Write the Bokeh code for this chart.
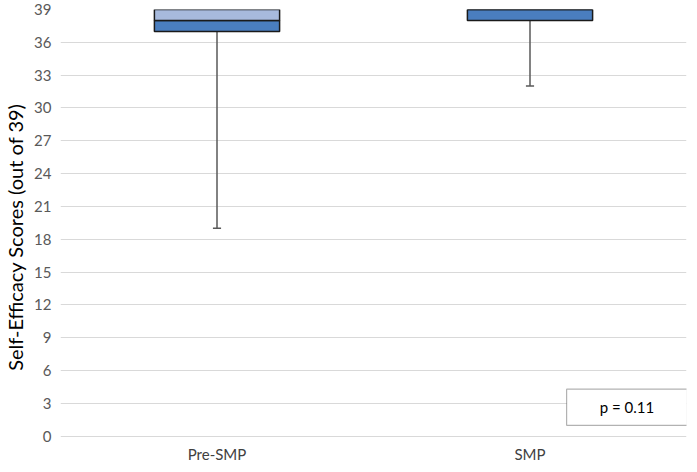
from bokeh.plotting import figure
from bokeh.models import Range1d, FactorRange, BoxAnnotation, Label
from bokeh.core.properties import value
from bokeh.transform import dodge
from bokeh.embed import file_html
from bokeh.resources import INLINE

# Data
groups = ["Pre-SMP", "SMP"]
q1 = [37, 38]
median = [38, 39]
q3 = [39, 39]
lower = [19, 32]
upper = [39, 39]
y_ticks = list(range(0, 40, 3))
p_text = "p = 0.11"

FONT = "Lato"
p = figure(x_range=FactorRange(*groups), y_range=Range1d(-2.6, 39),
           width=689, height=464, output_backend="svg", toolbar_location=None,
           min_border_left=0, min_border_right=3, min_border_top=9, min_border_bottom=0)
p.outline_line_color = None
p.background_fill_color = "white"

# grid
p.xgrid.grid_line_color = None
p.ygrid.grid_line_color = "#D9D9D9"
p.ygrid.grid_line_width = 1
p.yaxis.ticker = y_ticks

# whiskers
p.segment(x0=groups, y0=q1, x1=groups, y1=lower, line_color="#595959", line_width=1.5)
p.segment(x0=groups, y0=q3, x1=groups, y1=upper, line_color="#595959", line_width=1.5)
src = dict(x=groups, lo=lower, hi=upper)
p.segment(x0=dodge("x", -0.013, range=p.x_range), y0="lo",
          x1=dodge("x", 0.013, range=p.x_range), y1="lo", source=src,
          line_color="#595959", line_width=1.5)

# boxes
p.vbar(x=groups, bottom=q1, top=median, width=0.4, fill_color="#4A7EBF",
       line_color="#1A1A1A", line_width=1.5)
p.vbar(x=groups, bottom=median, top=q3, width=0.4, fill_color="#A7BADD",
       line_color="#1A1A1A", line_width=1.5)

# category labels (drawn below the zero line)
p.text(x=groups, y=[-1.6] * len(groups), text=groups, text_align="center",
       text_baseline="middle", text_font=value(FONT), text_font_size="15px",
       text_color="#404040")
p.xaxis.visible = False

# y axis
ax = p.yaxis
ax.axis_line_color = None
ax.major_tick_line_color = None
ax.minor_tick_line_color = None
ax.major_tick_out = 0
ax.major_tick_in = 0
ax.major_label_text_font = FONT
ax.major_label_text_font_size = "15px"
ax.major_label_text_color = "#595959"
ax.major_label_standoff = 9
ax.axis_label = "Self-Efficacy Scores (out of 39)"
ax.axis_label_text_font = FONT
ax.axis_label_text_font_size = "20px"
ax.axis_label_text_font_style = "normal"
ax.axis_label_text_color = "#000000"
ax.axis_label_standoff = 4

# p-value box
p.add_layout(BoxAnnotation(left=1.617, right=2.003, bottom=0.98, top=4.29,
                           fill_color="white", fill_alpha=1,
                           line_color="#000000", line_width=1.2, level="overlay"))
p.add_layout(Label(x=1.81, y=2.63, text=p_text, text_align="center",
                   text_baseline="middle", text_font=FONT, text_font_size="15px",
                   text_color="#000000", level="overlay"))

open("out.html", "w").write(file_html(p, INLINE))
